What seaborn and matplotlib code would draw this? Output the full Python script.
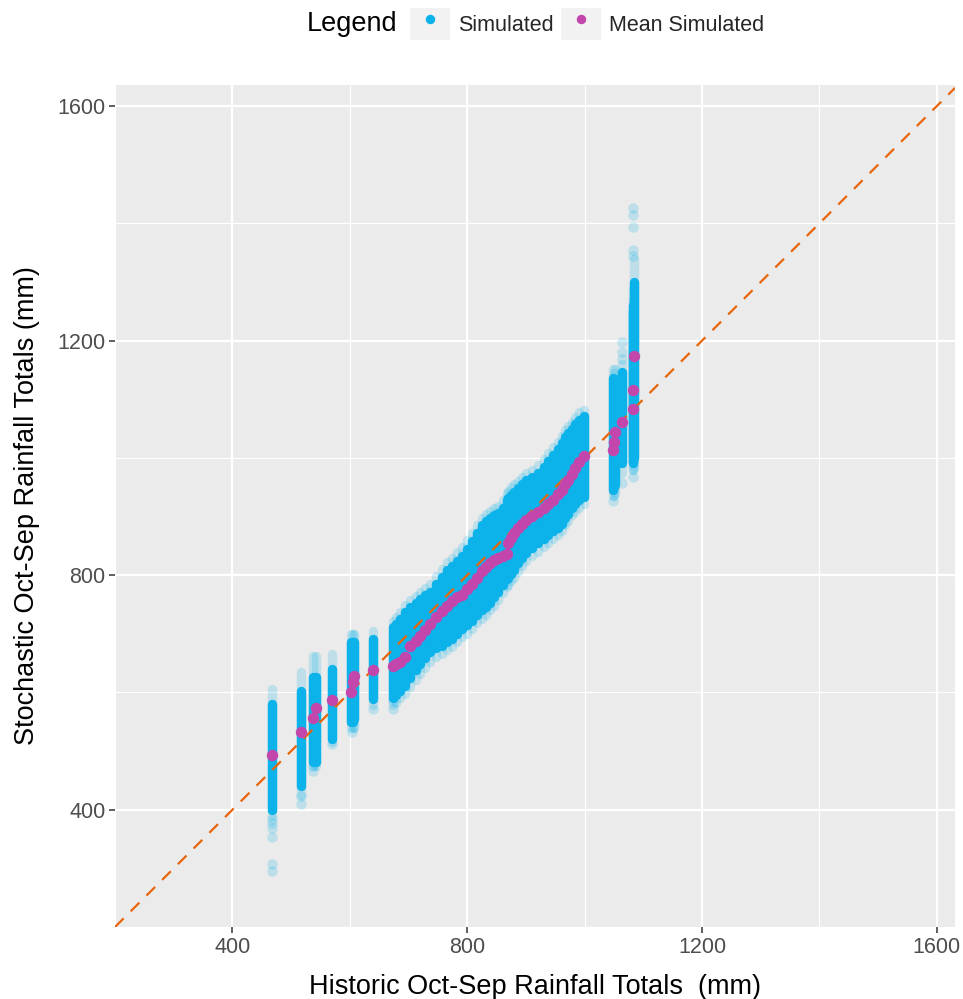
import matplotlib
matplotlib.use("Agg")
import matplotlib.pyplot as plt
import seaborn as sns
import pandas as pd
from matplotlib.lines import Line2D
from matplotlib.patches import Rectangle
from matplotlib.legend_handler import HandlerTuple

# ---------------- data ----------------
# one entry per historic year: historic total, mean of simulations,
# dense simulated range (lo/hi) and faint extremes (min/max)
hist_x = [468, 517, 538, 543, 570, 602, 605, 608, 640,
          673, 678, 686, 694, 703, 712, 720, 728, 737, 747, 757, 766, 774, 783,
          791, 800, 808, 817, 825, 832, 839, 846, 853, 861, 868, 870, 875, 879,
          886, 893, 901, 910, 920, 930, 938, 947, 954, 961, 967, 972, 978, 984,
          991, 999,
          1048, 1050, 1051, 1064, 1082, 1083, 1084]
mean_sim = [494, 533, 557, 574, 587, 601, 618, 628, 638,
            645, 648, 652, 660, 680, 688, 697, 707, 717, 728, 739, 748, 756, 762,
            767, 776, 785, 796, 807, 814, 821, 826, 830, 833, 836, 855, 864, 872,
            880, 887, 894, 901, 908, 915, 922, 929, 938, 946, 955, 963, 973, 983,
            993, 1004,
            1014, 1028, 1045, 1062, 1084, 1115, 1174]
sim_lo = [400, 441, 482, 482, 521, 550, 550, 555, 589,
          590, 595, 603, 611, 625, 638, 648, 658, 669, 675, 680, 686, 691, 700,
          708, 715, 722, 732, 740, 746, 753, 762, 772, 783, 793, 796, 802, 808,
          820, 830, 838, 846, 855, 862, 868, 875, 880, 888, 898, 905, 915, 922,
          928, 934,
          946, 950, 955, 992, 992, 995, 1000]
sim_hi = [580, 603, 626, 626, 640, 686, 686, 686, 691,
          712, 716, 725, 737, 745, 752, 760, 766, 772, 785, 797, 808, 815, 825,
          833, 845, 858, 872, 886, 893, 898, 902, 906, 915, 928, 932, 937, 942,
          948, 955, 962, 968, 975, 985, 995, 1005, 1015, 1025, 1035, 1042, 1050,
          1058, 1065, 1072,
          1137, 1130, 1135, 1147, 1250, 1260, 1300]
sim_min = [390, 425, 475, 475, 515, 540, 540, 540, 578,
           578, 582, 590, 598, 610, 622, 632, 642, 652, 660, 665, 672, 678, 686,
           694, 700, 708, 718, 726, 732, 740, 748, 758, 770, 780, 783, 790, 796,
           806, 816, 824, 832, 840, 848, 855, 862, 868, 875, 885, 892, 902, 908,
           915, 922,
           935, 935, 940, 975, 980, 980, 985]
sim_max = [606, 635, 662, 662, 666, 700, 700, 700, 705,
           722, 728, 738, 750, 758, 765, 772, 778, 785, 798, 810, 822, 830, 840,
           848, 860, 872, 886, 898, 905, 910, 914, 918, 928, 940, 944, 950, 955,
           960, 968, 975, 980, 988, 998, 1008, 1018, 1028, 1038, 1048, 1055, 1062,
           1070, 1078, 1082,
           1151, 1145, 1151, 1160, 1270, 1290, 1340]

# isolated faint simulated points outside the dense ranges
outlier_x = [468, 468, 468, 468, 468, 468, 517, 517, 538, 538, 570, 604, 640,
             673, 673, 1083, 1083, 1083, 1083, 1083, 1083,
             1064, 1064, 1064, 1064, 1048]
outlier_y = [385, 378, 368, 354, 308, 296, 424, 410, 475, 466, 512, 533, 572,
             585, 572, 1426, 1414, 1394, 1355, 1345, 968,
             1198, 1181, 1168, 958, 926]

x_ticks = [400, 800, 1200, 1600]
y_ticks = [400, 800, 1200, 1600]
minor_ticks = [200, 600, 1000, 1400]
legend_labels = ["Simulated", "Mean Simulated"]

# ---------------- style ----------------
BLUE = "#0BB3EA"
MAGENTA = "#C346AC"
ORANGE = "#E8650A"

sns.set_theme(style="darkgrid", rc={
    "axes.facecolor": "#EBEBEB",
    "grid.color": "white",
})
plt.rcParams["font.family"] = ["Liberation Sans", "DejaVu Sans"]

fig = plt.figure(figsize=(9.63, 9.99), dpi=100)
ax = fig.add_axes([115 / 963, 72 / 999, 840 / 963, 842 / 999])

sim = pd.DataFrame({"hist": hist_x, "mean": mean_sim, "lo": sim_lo,
                    "hi": sim_hi, "mn": sim_min, "mx": sim_max})
outl = pd.DataFrame({"hist": outlier_x, "sim": outlier_y})

# faint extent of simulated values
lc1 = ax.vlines(sim["hist"], sim["mn"], sim["mx"], color=BLUE, alpha=0.2,
                linewidth=6.8, zorder=2)
lc1.set_capstyle("round")
# dense body of simulated values
lc2 = ax.vlines(sim["hist"], sim["lo"], sim["hi"], color=BLUE, alpha=1.0,
                linewidth=6.8, zorder=3)
lc2.set_capstyle("round")
# isolated faint simulated points
sns.scatterplot(data=outl, x="hist", y="sim", color=BLUE, alpha=0.2, s=58,
                linewidth=0, ax=ax, zorder=3, legend=False)

# 1:1 line
ax.axline((0, 0), slope=1, color=ORANGE, linewidth=1.6,
          dashes=(5.5, 4.5), zorder=4)

# mean simulated
sns.scatterplot(data=sim, x="hist", y="mean", color=MAGENTA, s=68,
                linewidth=0, ax=ax, zorder=5, legend=False)

ax.set_xlim(201, 1631)
ax.set_ylim(203, 1636)
ax.set_xticks(x_ticks)
ax.set_yticks(y_ticks)
ax.set_xticks(minor_ticks, minor=True)
ax.set_yticks(minor_ticks, minor=True)
ax.grid(which="major", color="white", linewidth=1.6)
ax.grid(which="minor", color="white", linewidth=0.8)
ax.tick_params(which="major", length=4, width=1.1, color="#333333",
               labelcolor="#4D4D4D", labelsize=15.5, pad=3,
               bottom=True, left=True)
ax.tick_params(which="minor", length=0)
for s in ax.spines.values():
    s.set_visible(False)

ax.set_xlabel("Historic Oct-Sep Rainfall Totals  (mm)", fontsize=19.5,
              color="black", labelpad=12)
ax.set_ylabel("Stochastic Oct-Sep Rainfall Totals (mm)", fontsize=19.5,
              color="black", labelpad=12)

# legend at top
fig.text(307 / 963, 1 - 24 / 999, "Legend", fontsize=19.5, ha="left",
         va="center", color="black")
key_bg = dict(facecolor="#F2F2F2", edgecolor="none")
handles = [
    (Rectangle((0, 0), 1, 1, **key_bg),
     Line2D([], [], marker="o", ls="", color=BLUE, markersize=5.8)),
    (Rectangle((0, 0), 1, 1, **key_bg),
     Line2D([], [], marker="o", ls="", color=MAGENTA, markersize=5.8)),
]
fig.legend(handles, legend_labels, handler_map={tuple: HandlerTuple(ndivide=1, pad=0)},
           loc="center left", bbox_to_anchor=(410 / 963, 1 - 24 / 999),
           ncol=2, frameon=False, fontsize=15.5, borderpad=0, borderaxespad=0,
           handlelength=1.86, handleheight=1.9, handletextpad=0.37,
           columnspacing=0.33)

fig.savefig("out.png", dpi=100, facecolor="white")
